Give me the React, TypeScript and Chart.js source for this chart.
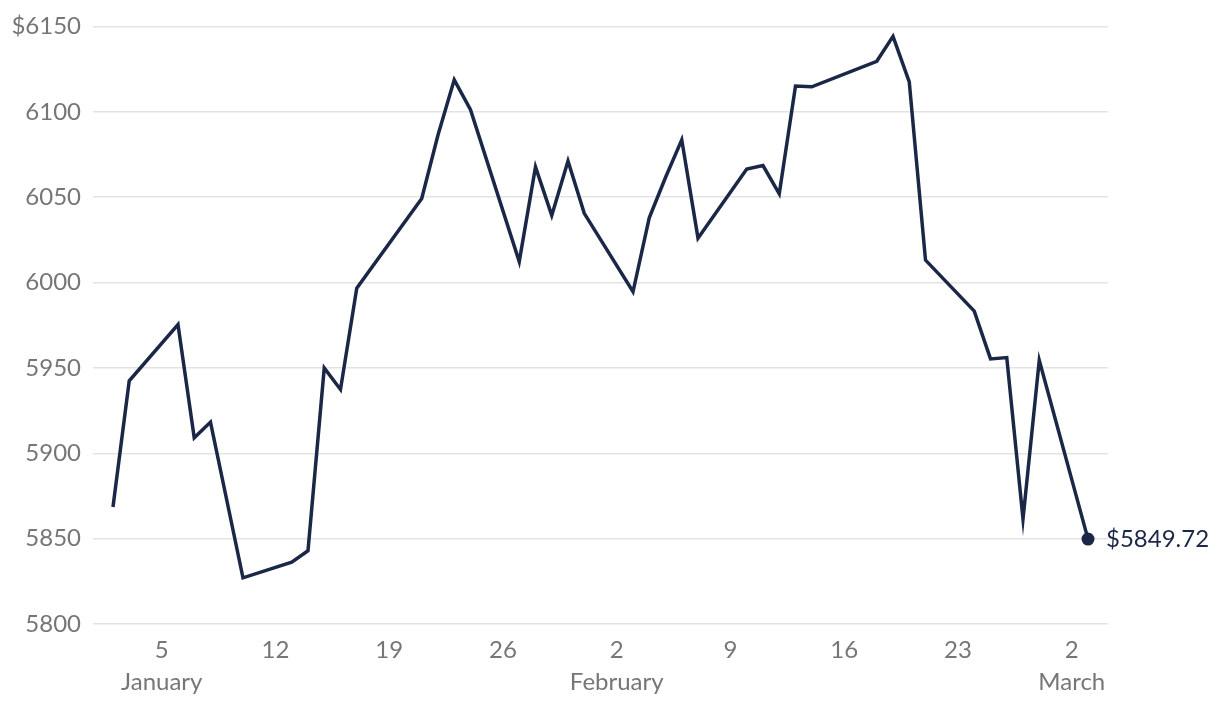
import React, { useEffect, useRef } from "react";
import { Chart, registerables } from "chart.js";

Chart.register(...registerables);

// Day-of-year (2025) for each trading day
const days: number[] = [
  2, 3, 6, 7, 8, 10, 13, 14, 15, 16, 17, 21, 22, 23, 24, 27, 28, 29, 30, 31,
  34, 35, 36, 37, 38, 41, 42, 43, 44, 45, 49, 50, 51, 52, 55, 56, 57, 58, 59, 62,
];
const closes: number[] = [
  5868.55, 5942.47, 5975.38, 5909.03, 5918.25, 5827.04, 5836.22, 5842.91, 5949.91, 5937.34,
  5996.66, 6049.24, 6086.37, 6118.71, 6101.24, 6012.28, 6067.7, 6039.31, 6071.17, 6040.53,
  5994.57, 6037.88, 6061.48, 6083.57, 6025.99, 6066.44, 6068.5, 6051.97, 6115.07, 6114.63,
  6129.58, 6144.15, 6117.52, 6013.13, 5983.25, 5955.25, 5956.06, 5861.57, 5954.5, 5849.72,
];
const tickDays: number[] = [5, 12, 19, 26, 33, 40, 47, 54, 61];
const tickDayLabels: string[] = ["5", "12", "19", "26", "2", "9", "16", "23", "2"];
const tickMonthLabels: string[] = ["January", "", "", "", "February", "", "", "", "March"];

const LINE = "#1b2747";
const GRAY = "#767676";
const FONT = "Lato";
const SIZE = 24;

export default function App() {
  const ref = useRef<HTMLCanvasElement | null>(null);
  useEffect(() => {
    document.body.style.margin = "0";
    const endLabel = {
      id: "endLabel",
      afterDatasetsDraw(chart: any) {
        const meta = chart.getDatasetMeta(0);
        const pt = meta.data[meta.data.length - 1];
        const ctx = chart.ctx;
        ctx.save();
        ctx.fillStyle = LINE;
        ctx.font = `${SIZE}px ${FONT}`;
        ctx.textAlign = "left";
        ctx.textBaseline = "middle";
        ctx.fillText("$" + closes[closes.length - 1].toFixed(2), pt.x + 18, pt.y);
        ctx.restore();
      },
    };
    const chart = new Chart(ref.current!, {
      type: "line",
      data: {
        datasets: [
          {
            data: days.map((d, i) => ({ x: d, y: closes[i] })),
            borderColor: LINE,
            backgroundColor: LINE,
            borderWidth: 3.5,
            tension: 0,
            pointRadius: (c: any) => (c.dataIndex === closes.length - 1 ? 6.5 : 0),
            pointBorderWidth: 0,
          },
        ],
      },
      options: {
        animation: false,
        responsive: false,
        maintainAspectRatio: false,
        layout: { padding: { top: 23, right: 112, left: 0, bottom: 0 } },
        plugins: { legend: { display: false }, tooltip: { enabled: false } },
        scales: {
          x: {
            type: "linear",
            min: 0.77,
            max: 63.23,
            grid: { display: false },
            border: { display: false },
            afterBuildTicks: (s: any) => {
              s.ticks = tickDays.map((v) => ({ value: v }));
            },
            afterFit: (s: any) => {
              s.height = 86;
            },
            ticks: {
              color: GRAY,
              font: { family: FONT, size: SIZE, lineHeight: 1.3 },
              padding: 3,
              maxRotation: 0,
              autoSkip: false,
              callback: (v: any) => {
                const i = tickDays.indexOf(Number(v));
                if (i < 0) return "";
                return tickMonthLabels[i] ? [tickDayLabels[i], tickMonthLabels[i]] : tickDayLabels[i];
              },
            },
          },
          y: {
            min: 5800,
            max: 6150,
            grid: { color: "#e3e3e3", lineWidth: 1.5, drawTicks: false },
            border: { display: false },
            afterFit: (s: any) => {
              s.width = 93;
            },
            ticks: {
              stepSize: 50,
              color: GRAY,
              padding: 12,
              font: { family: FONT, size: SIZE },
              callback: (v: any) => (Number(v) === 6150 ? "$" + v : String(v)),
            },
          },
        },
      },
      plugins: [endLabel],
    } as any);
    return () => chart.destroy();
  }, []);
  return (
    <div style={{ width: 1220, height: 710 }}>
      <canvas ref={ref} width={1220} height={710} style={{ display: "block" }} />
    </div>
  );
}
